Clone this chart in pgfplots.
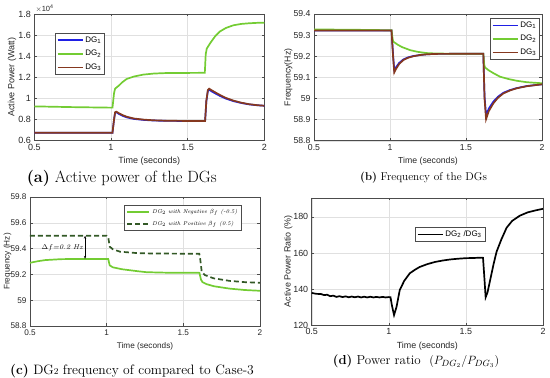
\documentclass[border=0pt]{standalone}
\usepackage{fontspec}
\setsansfont{Liberation Sans}
\usepackage{pgfplots}
\pgfplotsset{compat=1.18}
\usetikzlibrary{arrows.meta}

\definecolor{cdg1}{rgb}{0.12,0.12,0.9}
\definecolor{cdg2}{rgb}{0.45,0.8,0.2}
\definecolor{cdg3}{rgb}{0.52,0.22,0.12}
\definecolor{cdash}{rgb}{0.2,0.35,0.15}

\pgfplotsset{
 legend image code/.code={\draw[#1, line width=1.6pt] (0pt,0pt) -- (25pt,0pt);},
 mstyle/.style={
  scale only axis,
  xmin=0.5,xmax=2,
  xtick={0.5,1,1.5,2},
  grid=major,
  major grid style={draw=black!12, line width=0.4pt},
  axis line style={draw=black!70, line width=0.5pt},
  tick style={draw=black!70, line width=0.5pt},
  major tick length=2.5pt,
  tick align=inside,
  /pgf/number format/assume math mode=true,
  xlabel={Time (seconds)},
  legend cell align=left,
  legend style={draw=black!70, line width=0.5pt, inner sep=1.5pt, row sep=2.5pt},
 },
 mfont/.style={
  ticklabel style={font=\sffamily\fontsize{#1}{#1}\selectfont, text=black!85},
  label style={font=\sffamily\fontsize{#1}{#1}\selectfont, text=black!85},
 },
 pl/.style={line width=1.7pt},
}

\begin{document}
\begin{tikzpicture}
\useasboundingbox (0pt,0pt) rectangle (550pt,378pt);

% ---------------- (a)
\begin{axis}[mstyle, mfont=9, name=axa, at={(34.3pt,364pt)}, anchor=north west, width=230pt, height=126.7pt,
  ymin=0.6, ymax=1.8, ytick={0.6,0.8,1,1.2,1.4,1.6,1.8},
  ylabel={Active Power (Watt)},
  ylabel style={at={(axis description cs:-0.097,0.5)}, anchor=center},
  legend style={at={(0.09,0.85)},anchor=north west, font=\sffamily\fontsize{8}{9}\selectfont}]
\addplot[pl,cdg1] coordinates {(0.5,0.675)(0.8,0.675)(1.01,0.676)(1.02,0.80)(1.027,0.865)(1.035,0.869)(1.05,0.855)(1.075,0.836)(1.103,0.821)(1.15,0.806)(1.211,0.797)(1.28,0.791)(1.36,0.788)(1.5,0.787)(1.614,0.787)(1.622,0.97)(1.632,1.07)(1.64,1.083)(1.66,1.064)(1.69,1.040)(1.711,1.024)(1.75,0.998)(1.798,0.975)(1.85,0.957)(1.9,0.944)(1.95,0.936)(2.0,0.931)};
\addplot[pl,cdg2] coordinates {(0.5,0.925)(0.75,0.918)(1.0,0.913)(1.01,0.914)(1.02,1.05)(1.027,1.093)(1.05,1.12)(1.075,1.155)(1.103,1.185)(1.15,1.208)(1.211,1.226)(1.28,1.236)(1.364,1.241)(1.5,1.242)(1.612,1.243)(1.618,1.42)(1.625,1.473)(1.65,1.53)(1.68,1.59)(1.711,1.635)(1.75,1.668)(1.798,1.693)(1.85,1.706)(1.9,1.712)(1.95,1.716)(2.0,1.718)};
\addplot[pl,cdg3] coordinates {(0.5,0.675)(0.8,0.675)(1.01,0.676)(1.02,0.80)(1.027,0.87)(1.035,0.875)(1.05,0.862)(1.075,0.843)(1.103,0.827)(1.15,0.810)(1.211,0.800)(1.28,0.793)(1.36,0.789)(1.5,0.787)(1.614,0.787)(1.622,0.98)(1.632,1.08)(1.64,1.093)(1.66,1.075)(1.69,1.05)(1.711,1.033)(1.75,1.005)(1.798,0.98)(1.85,0.96)(1.9,0.946)(1.95,0.937)(2.0,0.931)};
\legend{DG\textsubscript{1},DG\textsubscript{2},DG\textsubscript{3}}
\end{axis}
\node[anchor=south west, font=\sffamily\fontsize{7.5}{8}\selectfont, text=black!85, inner sep=1pt] at (axa.north west) {$\times$10\textsuperscript{4}};

% ---------------- (b)
\begin{axis}[mstyle, mfont=8.7, at={(314pt,364pt)}, anchor=north west, width=228pt, height=126.7pt,
  ymin=58.8, ymax=59.4, ytick={58.8,58.9,59,59.1,59.2,59.3,59.4},
  ylabel={Frequency(Hz)},
  ylabel style={at={(axis description cs:-0.112,0.5)}, anchor=center},
  legend style={at={(0.991,0.968)},anchor=north east, font=\sffamily\fontsize{8}{9}\selectfont}]
\addplot[pl,cdg1] coordinates {(0.5,59.322)(1.01,59.322)(1.02,59.21)(1.028,59.135)(1.04,59.148)(1.06,59.168)(1.088,59.185)(1.12,59.195)(1.154,59.201)(1.2,59.206)(1.24,59.209)(1.3,59.211)(1.614,59.212)(1.622,59.01)(1.632,58.92)(1.65,58.952)(1.68,58.985)(1.71,59.008)(1.746,59.027)(1.79,59.040)(1.833,59.049)(1.9,59.059)(2.0,59.067)};
\addplot[pl,cdg2] coordinates {(0.5,59.327)(0.8,59.325)(1.01,59.323)(1.018,59.28)(1.022,59.269)(1.05,59.255)(1.08,59.243)(1.132,59.229)(1.18,59.221)(1.241,59.215)(1.3,59.213)(1.4,59.212)(1.614,59.212)(1.62,59.16)(1.625,59.147)(1.65,59.133)(1.68,59.12)(1.724,59.103)(1.78,59.092)(1.833,59.084)(1.9,59.077)(2.0,59.072)};
\addplot[pl,cdg3] coordinates {(0.5,59.322)(1.01,59.322)(1.02,59.2)(1.028,59.123)(1.04,59.14)(1.06,59.163)(1.088,59.182)(1.12,59.193)(1.154,59.2)(1.2,59.206)(1.24,59.209)(1.3,59.211)(1.614,59.212)(1.622,59.0)(1.632,58.902)(1.65,58.94)(1.68,58.977)(1.71,59.003)(1.746,59.024)(1.79,59.038)(1.833,59.048)(1.9,59.058)(2.0,59.067)};
\legend{DG\textsubscript{1},DG\textsubscript{2},DG\textsubscript{3}}
\end{axis}

% ---------------- (c)
\begin{axis}[mstyle, mfont=8.2, at={(30pt,181pt)}, anchor=north west, width=230pt, height=129pt,
  ymin=58.8, ymax=59.8, ytick={58.8,59,59.2,59.4,59.6,59.8},
  ylabel={Frequency (Hz)},
  ylabel style={at={(axis description cs:-0.098,0.5)}, anchor=center},
  legend image code/.code={\draw[#1, line width=1.6pt] (0pt,0pt) -- (22pt,0pt);},
  legend style={at={(0.92,0.938)},anchor=north east, font=\rmfamily\itshape\fontsize{5.6}{7}\selectfont, row sep=2pt, inner sep=2pt}]
\addplot[pl,cdg2] coordinates {(0.5,59.29)(0.55,59.302)(0.6,59.311)(0.7,59.318)(0.8,59.32)(1.01,59.32)(1.02,59.27)(1.04,59.255)(1.1,59.24)(1.2,59.225)(1.26,59.217)(1.4,59.213)(1.605,59.212)(1.615,59.16)(1.625,59.14)(1.65,59.125)(1.7,59.108)(1.8,59.09)(1.9,59.079)(2.0,59.073)};
\addplot[pl,cdash, dash pattern=on 5pt off 3pt] coordinates {(0.5,59.50)(1.0,59.50)(1.01,59.49)(1.02,59.415)(1.04,59.395)(1.087,59.376)(1.2,59.365)(1.3,59.362)(1.604,59.36)(1.61,59.32)(1.62,59.22)(1.64,59.195)(1.696,59.17)(1.8,59.15)(1.9,59.14)(2.0,59.135)};
\legend{DG$_2$ with Negative $\beta_f$ (-0.5), DG$_2$ with Positive $\beta_f$ (0.5)}
\draw[{Stealth[length=3pt]}-{Stealth[length=3pt]}, line width=0.6pt] (axis cs:0.859,59.32) -- (axis cs:0.859,59.50);
\node[font=\rmfamily\itshape\fontsize{7}{8}\selectfont] at (axis cs:0.71,59.41) {$\Delta f$=0.2 Hz};
\end{axis}

% ---------------- (d)
\begin{axis}[mstyle, mfont=8.9, at={(311.7pt,180pt)}, anchor=north west, width=231.3pt, height=127pt,
  ymin=120, ymax=190.5, ytick={120,140,160,180},
  ylabel={Active Power Ratio (\%)},
  ylabel style={at={(axis description cs:-0.101,0.5)}, anchor=center},
  legend style={at={(0.447,0.772)},anchor=north west, font=\sffamily\fontsize{8}{9}\selectfont}]
\addplot[pl,black] coordinates {(0.5,137.8)(0.53,137.3)(0.56,137.2)(0.58,136.6)(0.6,136.8)(0.62,136.0)(0.64,136.3)(0.66,135.6)(0.68,136.0)(0.7,135.5)(0.72,135.9)(0.74,135.4)(0.76,135.8)(0.78,135.4)(0.8,135.8)(0.82,135.3)(0.84,135.7)(0.86,135.3)(0.88,135.7)(0.9,135.3)(0.92,135.6)(0.94,135.3)(0.96,135.6)(0.98,135.3)(1.0,135.5)(1.011,135.4)(1.02,131)(1.034,125.5)(1.05,130)(1.071,139.4)(1.1,144.5)(1.136,148.7)(1.17,150.7)(1.2,152.2)(1.25,153.8)(1.3,155.0)(1.35,155.8)(1.4,156.4)(1.45,156.8)(1.5,157.1)(1.55,157.2)(1.6,157.4)(1.611,157.3)(1.62,146)(1.628,135.4)(1.64,138)(1.66,146)(1.68,154)(1.699,160.7)(1.73,167.5)(1.764,174.0)(1.8,177.8)(1.85,180.7)(1.9,182.5)(1.95,183.6)(2.0,184.5)};
\legend{DG\textsubscript{2} /DG\textsubscript{3}}
\end{axis}

% ---------------- captions
\node[font=\fontsize{16.3}{19}\selectfont] at (121.7pt,200pt) {\textbf{(a)} Active power of the DGs};
\node[font=\fontsize{11.3}{14}\selectfont] at (423.5pt,200pt) {\textbf{(b)} Frequency of the DGs};
\node[font=\fontsize{13.6}{16}\selectfont] at (132pt,6.5pt) {\textbf{(c)} DG{\fontsize{9}{11}\selectfont 2} frequency of compared to Case-3};
\node[font=\fontsize{13}{16}\selectfont] at (416pt,16.5pt) {\textbf{(d)} Power ratio\ \ $\left(P_{DG_2}/P_{DG_3}\right)$};
\end{tikzpicture}
\end{document}
